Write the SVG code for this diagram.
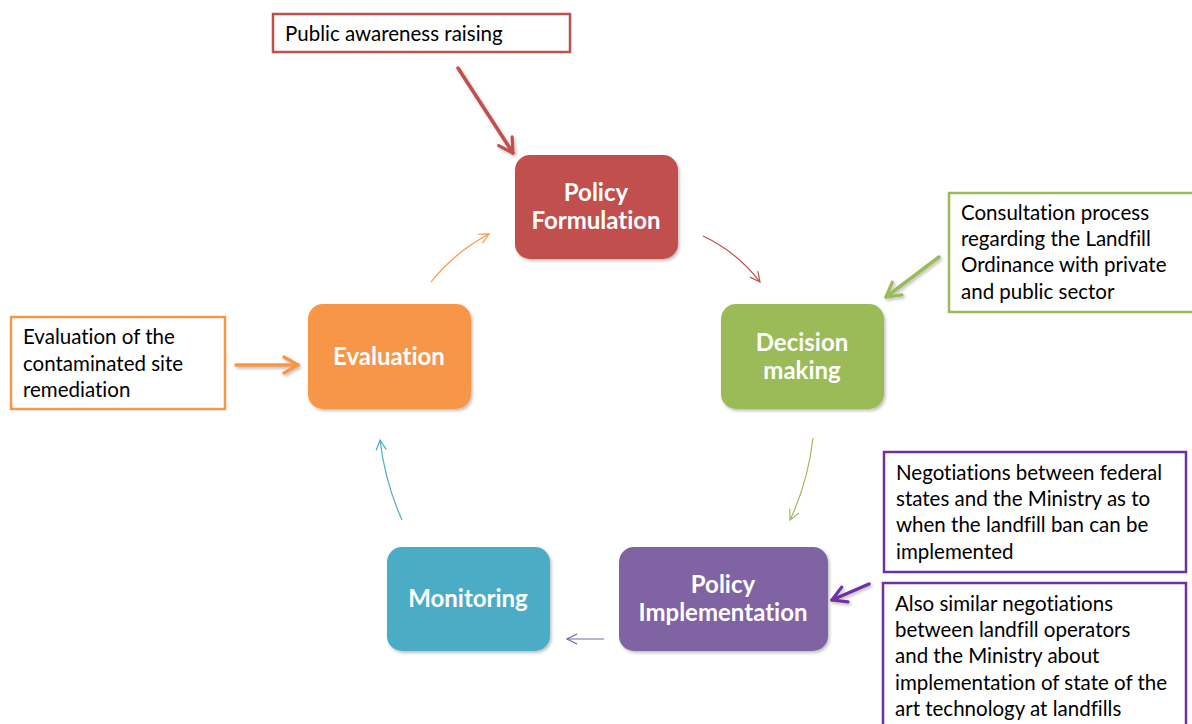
<svg xmlns="http://www.w3.org/2000/svg" width="1192" height="724" viewBox="0 0 1192 724">
  <style>
    .node-label { font-family: Lato, "Open Sans", sans-serif; font-weight: bold; font-size: 24px; fill: #ffffff; text-anchor: middle; font-variant-ligatures: none; }
    .note-text { font-family: Lato, "Open Sans", sans-serif; font-size: 20.5px; fill: #000000; font-variant-ligatures: none; }
    .note { fill: #ffffff; stroke-width: 2.5; }
    .thin { fill: none; stroke-width: 1.2; }
    .thick { fill: none; stroke-width: 3.5; stroke-linecap: round; }
  </style>
  <defs>
    <filter id="soft" x="-20%" y="-20%" width="140%" height="150%">
      <feDropShadow dx="1.5" dy="2" stdDeviation="1.5" flood-color="#000" flood-opacity="0.25"/>
    </filter>
    <marker id="openRed" viewBox="0 0 12 12" refX="11" refY="6" markerWidth="12" markerHeight="12" markerUnits="userSpaceOnUse" orient="auto">
      <path d="M1,1 L11,6 L1,11" fill="none" stroke="#c0504d" stroke-width="1.2"/>
    </marker>
    <marker id="openGreen" viewBox="0 0 12 12" refX="11" refY="6" markerWidth="12" markerHeight="12" markerUnits="userSpaceOnUse" orient="auto">
      <path d="M1,1 L11,6 L1,11" fill="none" stroke="#9bbb59" stroke-width="1.2"/>
    </marker>
    <marker id="openPurple" viewBox="0 0 12 12" refX="11" refY="6" markerWidth="12" markerHeight="12" markerUnits="userSpaceOnUse" orient="auto">
      <path d="M1,1 L11,6 L1,11" fill="none" stroke="#8064a2" stroke-width="1.2"/>
    </marker>
    <marker id="openBlue" viewBox="0 0 12 12" refX="11" refY="6" markerWidth="12" markerHeight="12" markerUnits="userSpaceOnUse" orient="auto">
      <path d="M1,1 L11,6 L1,11" fill="none" stroke="#4bacc6" stroke-width="1.2"/>
    </marker>
    <marker id="openOrange" viewBox="0 0 12 12" refX="11" refY="6" markerWidth="12" markerHeight="12" markerUnits="userSpaceOnUse" orient="auto">
      <path d="M1,1 L11,6 L1,11" fill="none" stroke="#f79646" stroke-width="1.2"/>
    </marker>
    <marker id="boldRed" viewBox="0 0 10 10" refX="8" refY="5" markerWidth="20" markerHeight="20" markerUnits="userSpaceOnUse" orient="auto">
      <path d="M1,1 L8,5 L1,9" fill="none" stroke="#c0504d" stroke-width="1.6" stroke-linecap="round" stroke-linejoin="round"/>
    </marker>
    <marker id="boldGreen" viewBox="0 0 10 10" refX="8" refY="5" markerWidth="20" markerHeight="20" markerUnits="userSpaceOnUse" orient="auto">
      <path d="M1,1 L8,5 L1,9" fill="none" stroke="#9bbb59" stroke-width="1.6" stroke-linecap="round" stroke-linejoin="round"/>
    </marker>
    <marker id="boldOrange" viewBox="0 0 10 10" refX="8" refY="5" markerWidth="20" markerHeight="20" markerUnits="userSpaceOnUse" orient="auto">
      <path d="M1,1 L8,5 L1,9" fill="none" stroke="#f79646" stroke-width="1.6" stroke-linecap="round" stroke-linejoin="round"/>
    </marker>
    <marker id="boldPurple" viewBox="0 0 10 10" refX="8" refY="5" markerWidth="20" markerHeight="20" markerUnits="userSpaceOnUse" orient="auto">
      <path d="M1,1 L8,5 L1,9" fill="none" stroke="#7030a0" stroke-width="1.6" stroke-linecap="round" stroke-linejoin="round"/>
    </marker>
  </defs>

  <rect width="1192" height="724" fill="#ffffff"/>

  <!-- process cycle nodes -->
  <g id="policy-formulation">
    <rect x="515" y="155" width="163" height="104" rx="15" fill="#c0504d" filter="url(#soft)"/>
    <text class="node-label" x="596" y="201">Policy</text>
    <text class="node-label" x="596" y="229">Formulation</text>
  </g>
  <g id="decision-making">
    <rect x="721" y="304" width="163" height="105" rx="15" fill="#9bbb59" filter="url(#soft)"/>
    <text class="node-label" x="802" y="351">Decision</text>
    <text class="node-label" x="802" y="379">making</text>
  </g>
  <g id="policy-implementation">
    <rect x="619" y="547" width="209" height="104" rx="15" fill="#8064a2" filter="url(#soft)"/>
    <text class="node-label" x="723" y="593">Policy</text>
    <text class="node-label" x="723" y="621">Implementation</text>
  </g>
  <g id="monitoring">
    <rect x="387" y="547" width="163" height="104" rx="15" fill="#4bacc6" filter="url(#soft)"/>
    <text class="node-label" x="468" y="607">Monitoring</text>
  </g>
  <g id="evaluation">
    <rect x="308" y="304" width="163" height="105" rx="15" fill="#f79646" filter="url(#soft)"/>
    <text class="node-label" x="389" y="365">Evaluation</text>
  </g>

  <!-- annotation boxes -->
  <g id="note-awareness">
    <rect class="note" x="273" y="14" width="297" height="38" stroke="#c0504d"/>
    <text class="note-text" x="285" y="41">Public awareness raising</text>
  </g>
  <g id="note-consultation">
    <rect class="note" x="949" y="193" width="250" height="119" stroke="#9bbb59"/>
    <text class="note-text" x="961" y="220">Consultation process</text>
    <text class="note-text" x="961" y="246">regarding the Landfill</text>
    <text class="note-text" x="961" y="272">Ordinance with private</text>
    <text class="note-text" x="961" y="299">and public sector</text>
  </g>
  <g id="note-remediation">
    <rect class="note" x="11" y="317" width="214" height="92" stroke="#f79646"/>
    <text class="note-text" x="23" y="344">Evaluation of the</text>
    <text class="note-text" x="23" y="371">contaminated site</text>
    <text class="note-text" x="23" y="397">remediation</text>
  </g>
  <g id="note-federal">
    <rect class="note" x="884" y="452" width="302" height="120" stroke="#7030a0"/>
    <text class="note-text" x="896" y="480">Negotiations between federal</text>
    <text class="note-text" x="896" y="506">states and the Ministry as to</text>
    <text class="note-text" x="896" y="532">when the landfill ban can be</text>
    <text class="note-text" x="896" y="559">implemented</text>
  </g>
  <g id="note-operators">
    <rect class="note" x="883" y="583" width="303" height="150" stroke="#7030a0"/>
    <text class="note-text" x="895" y="611">Also similar negotiations</text>
    <text class="note-text" x="895" y="637">between landfill operators</text>
    <text class="note-text" x="895" y="663">and the Ministry about</text>
    <text class="note-text" x="895" y="690">implementation of state of the</text>
    <text class="note-text" x="895" y="716">art technology at landfills</text>
  </g>

  <!-- connectors -->
  <g id="connectors">
    <!-- cycle arrows -->
    <path class="thin" d="M703,236 Q737,252 760,282" stroke="#c0504d" marker-end="url(#openRed)"/>
    <path class="thin" d="M813,438 Q808,482 790,520" stroke="#9bbb59" marker-end="url(#openGreen)"/>
    <path class="thin" d="M604,639 L567,639" stroke="#8064a2" marker-end="url(#openPurple)"/>
    <path class="thin" d="M402,520 Q385,482 380,440" stroke="#4bacc6" marker-end="url(#openBlue)"/>
    <path class="thin" d="M431,282 Q455,252 489,234" stroke="#f79646" marker-end="url(#openOrange)"/>
    <!-- annotation arrows -->
    <g filter="url(#soft)">
      <path class="thick" d="M458,68 L513,153" stroke="#c0504d" marker-end="url(#boldRed)"/>
      <path class="thick" d="M939,257 L886,297" stroke="#9bbb59" marker-end="url(#boldGreen)"/>
      <path class="thick" d="M236,365 L298,365" stroke="#f79646" marker-end="url(#boldOrange)"/>
      <path class="thick" d="M869,584 L832,600" stroke="#7030a0" marker-end="url(#boldPurple)"/>
    </g>
  </g>
</svg>
